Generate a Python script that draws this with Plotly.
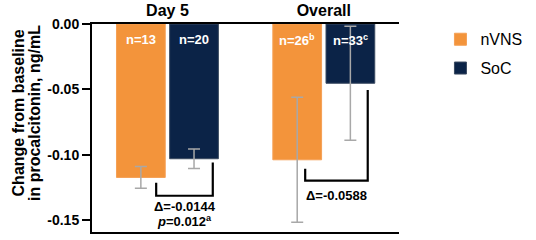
import plotly.graph_objects as go

categories = ["Day 5", "Overall"]
series_names = ["nVNS", "SoC"]
nvns_values = [-0.1173, -0.1038]
soc_values = [-0.1030, -0.0453]
nvns_err = [0.0083, 0.0478]
soc_err = [0.0074, 0.0435]
nvns_n = ["n=13", "n=26<sup>b</sup>"]
soc_n = ["n=20", "n=33<sup>c</sup>"]
delta_text = ["Δ=-0.0144", "Δ=-0.0588"]
p_text = ["<i>p</i>=0.012<sup>a</sup>", ""]
y_title_lines = ["Change from baseline", "in procalcitonin, ng/mL"]
y_tickvals = [0, -0.05, -0.10, -0.15]
y_ticktext = ["0.00", "-0.05", "-0.10", "-0.15"]

ORANGE = "#F3943B"
NAVY = "#0B2347"
GRAY = "#A8A8A8"
FONT = "Arial, Liberation Sans, sans-serif"

bargap = 0.32
slot = (1 - bargap) / 2
off = slot / 2

fig = go.Figure()
fig.add_trace(go.Bar(
    x=categories, y=nvns_values, name=series_names[0], legendgroup="a",
    marker=dict(color=ORANGE, line=dict(color="#F5A055", width=1)),
    error_y=dict(type="data", array=nvns_err, color=GRAY, thickness=1.5, width=6),
))
fig.add_trace(go.Bar(
    x=categories, y=soc_values, name=series_names[1], legendgroup="b",
    marker=dict(color=NAVY, line=dict(color="#3A4A60", width=1)),
    error_y=dict(type="data", array=soc_err, color=GRAY, thickness=1.5, width=6),
))

bold13w = dict(family=FONT, size=13, color="white", weight="bold")
bold13k = dict(family=FONT, size=13, color="black", weight="bold")
bold16k = dict(family=FONT, size=16, color="black", weight="bold")

annotations = []
for i in range(len(categories)):
    annotations.append(dict(x=i - off, y=-0.0122, xref="x", yref="y", text=nvns_n[i],
                            showarrow=False, font=bold13w))
    annotations.append(dict(x=i + off, y=-0.0122, xref="x", yref="y", text=soc_n[i],
                            showarrow=False, font=bold13w))

# y-axis title, two lines placed individually
for j, (line, xpos) in enumerate(zip(y_title_lines, [-0.241, -0.187])):
    annotations.append(dict(x=xpos, y=0.57, xref="paper", yref="paper", text=line,
                            textangle=-90, showarrow=False, xanchor="center", yanchor="middle",
                            font=bold16k))

# brackets
shapes = []
br = [
    (-0.072, 0.29, -0.1214, -0.1313, -0.1059),
    (0.881, 1.281, -0.1107, -0.1198, -0.0504),
]
for (xl, xr, yl, yb, yr) in br:
    shapes.append(dict(type="path", xref="x", yref="y",
                       path=f"M {xl},{yl} L {xl},{yb} L {xr},{yb} L {xr},{yr}",
                       line=dict(color="black", width=2.2)))

annotations.append(dict(x=0.111, y=-0.1393, xref="x", yref="y", text=delta_text[0],
                        showarrow=False, font=bold13k))
annotations.append(dict(x=0.111, y=-0.1505, xref="x", yref="y", text=p_text[0],
                        showarrow=False, font=bold13k))
annotations.append(dict(x=1.081, y=-0.1310, xref="x", yref="y", text=delta_text[1],
                        showarrow=False, font=bold13k))

fig.update_layout(
    width=536, height=240,
    margin=dict(l=92, r=130, t=24, b=8),
    paper_bgcolor="white", plot_bgcolor="white",
    barmode="group", bargap=bargap, bargroupgap=0.083,
    font=dict(family=FONT, color="black"),
    showlegend=True,
    legend=dict(x=1.135, y=1.008, xanchor="left", yanchor="top",
                font=dict(family=FONT, size=16, color="black"),
                tracegroupgap=5, traceorder="grouped", bgcolor="rgba(0,0,0,0)"),
    annotations=annotations,
    shapes=shapes,
    xaxis=dict(side="top", range=[-0.4825, 1.481], showline=True, mirror=True,
               linecolor="black", linewidth=2, ticks="", showgrid=False, automargin=False,
               tickfont=bold16k, fixedrange=True),
    yaxis=dict(range=[-0.159, 0], tickvals=y_tickvals, ticktext=y_ticktext,
               showline=True, linecolor="black", linewidth=2, ticks="outside",
               ticklen=8, tickwidth=2, tickcolor="black", showgrid=False, zeroline=False,
               automargin=False, ticklabelstandoff=0,
               tickfont=dict(family=FONT, size=14, color="black", weight="bold")),
)

fig.write_html("out.html", config={"displayModeBar": False},
               post_script="document.body.style.margin='0px';")
